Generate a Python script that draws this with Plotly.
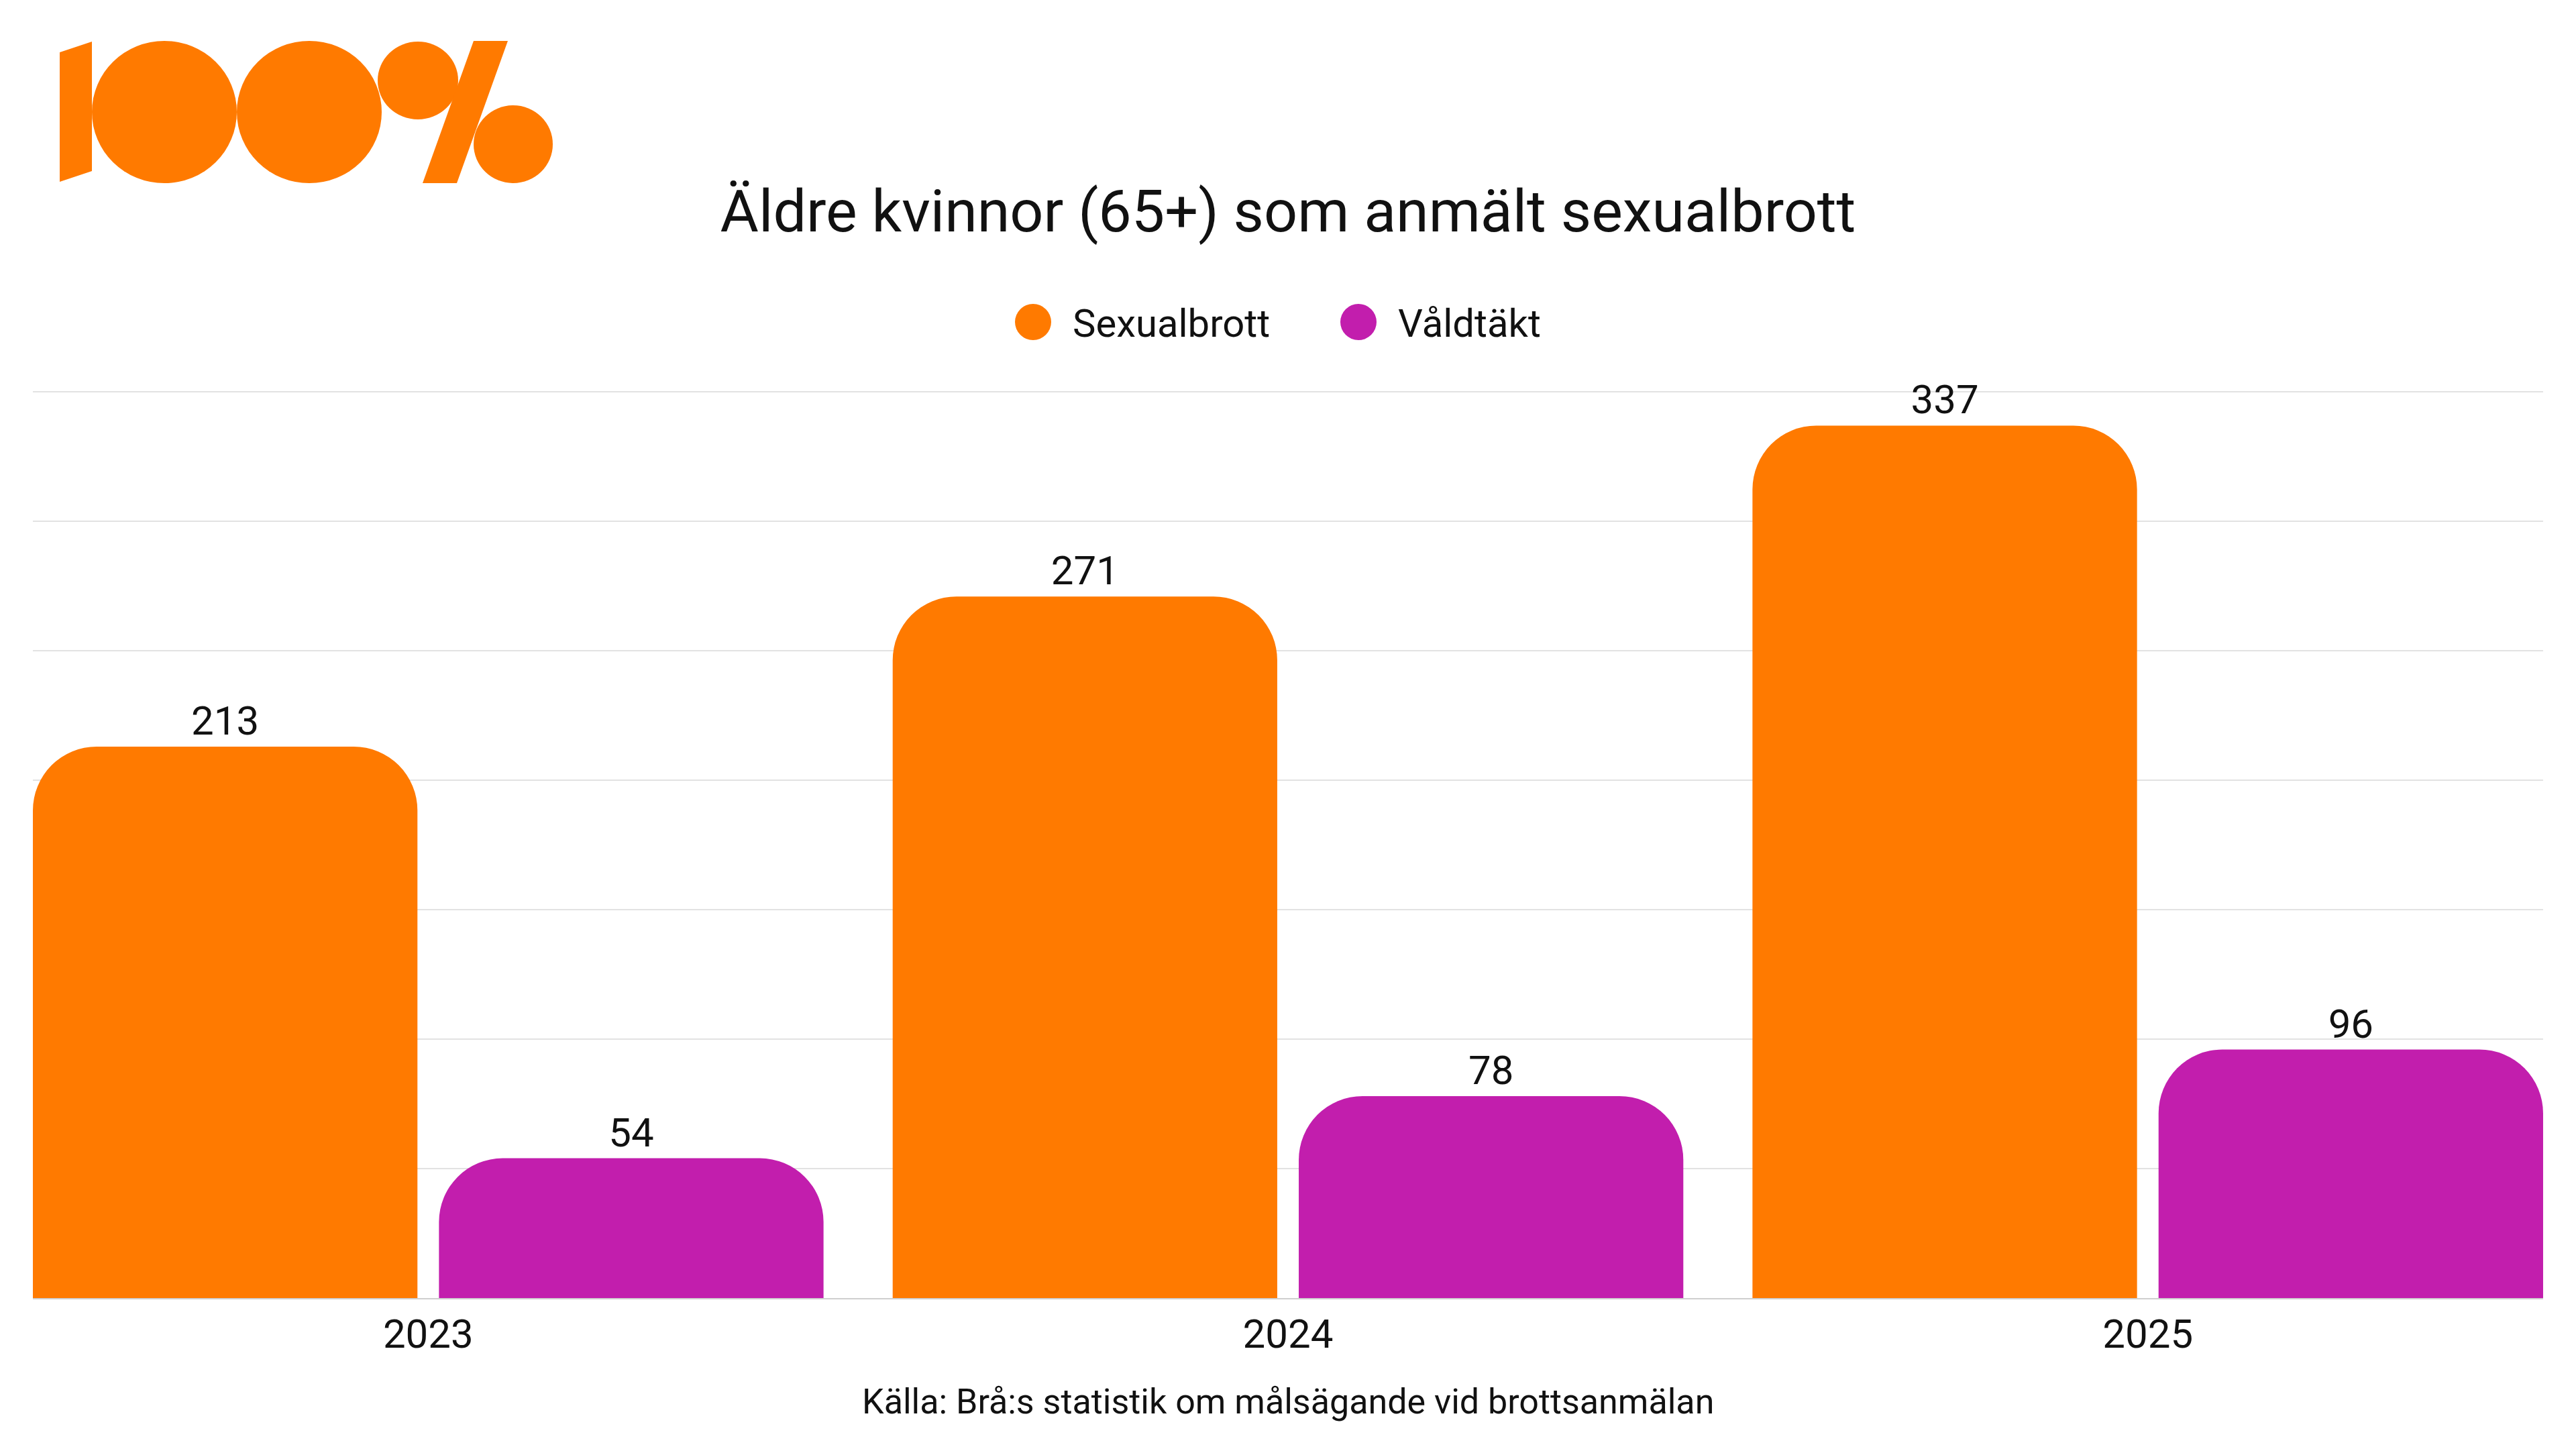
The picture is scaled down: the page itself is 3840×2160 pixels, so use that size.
import plotly.graph_objects as go

# ---------------- data ----------------
years = ["2023", "2024", "2025"]
sexualbrott = [213, 271, 337]
valdtakt = [54, 78, 96]
series_names = ["Sexualbrott", "Våldtäkt"]
title_text = "Äldre kvinnor (65+) som anmält sexualbrott"
source_text = "Källa: Brå:s statistik om målsägande vid brottsanmälan"

# ---------------- style ----------------
ORANGE = "#FF7A00"
PURPLE = "#C21EAD"
FONT = "Roboto, 'Liberation Sans', Arial, sans-serif"
W, H = 3840, 2160
YMAX = 350.6
ML, MR, MT, MB = 49, 49, 582, 225
PW = W - ML - MR
PH = H - MT - MB


def px(x):
    return (x - ML) / PW


def py(y):
    return (H - MB - y) / PH


fig = go.Figure()
for name, vals, col in [(series_names[0], sexualbrott, ORANGE),
                        (series_names[1], valdtakt, PURPLE)]:
    fig.add_bar(
        x=years, y=vals, name=name,
        marker=dict(color=col, cornerradius=95, line=dict(width=0)),
        text=vals, textposition="outside",
        textfont=dict(size=60, color="#111111", family=FONT),
        cliponaxis=False, showlegend=False, hoverinfo="x+y+name",
    )

shapes = []
annotations = []

# custom legend (circle markers)
legend_items = [(1540, 1597, ORANGE, series_names[0]),
                (2025, 2082, PURPLE, series_names[1])]
for cx, tx, col, name in legend_items:
    r = 27
    shapes.append(dict(type="circle", xref="paper", yref="paper",
                       x0=px(cx - r), x1=px(cx + r), y0=py(480 + r), y1=py(480 - r),
                       fillcolor=col, line=dict(width=0)))
    annotations.append(dict(text=name, xref="paper", yref="paper",
                            x=px(tx), y=py(482), xanchor="left", yanchor="middle",
                            showarrow=False, font=dict(size=58, color="#111111", family=FONT)))

# logo "100%"
def poly(pts):
    s = "M " + " L ".join(f"{px(a):.5f},{py(b):.5f}" for a, b in pts) + " Z"
    return dict(type="path", xref="paper", yref="paper", path=s,
                fillcolor=ORANGE, line=dict(width=0))


def ell(cx, cy, rx, ry):
    return dict(type="circle", xref="paper", yref="paper",
                x0=px(cx - rx), x1=px(cx + rx), y0=py(cy + ry), y1=py(cy - ry),
                fillcolor=ORANGE, line=dict(width=0))


shapes += [
    poly([(89, 78), (137, 62), (137, 255), (89, 271)]),
    ell(245, 167, 108, 106),
    ell(461, 167, 108, 106),
    ell(623, 120, 60, 58),
    ell(765, 215, 59, 58),
    poly([(706, 61), (757, 61), (681, 273), (630, 273)]),
]

annotations.append(dict(text=source_text, xref="paper", yref="paper",
                        x=0.5, y=py(2089), xanchor="center", yanchor="middle",
                        showarrow=False, font=dict(size=52, color="#111111", family=FONT)))

fig.update_layout(
    width=W, height=H,
    margin=dict(l=ML, r=MR, t=MT, b=MB, pad=0),
    paper_bgcolor="white", plot_bgcolor="white",
    barmode="group", bargap=0.0554, bargroupgap=0.053,
    title=dict(text=title_text, x=0.5, xanchor="center",
               y=1 - 314 / H, yanchor="middle", yref="container",
               font=dict(size=88, color="#111111", family=FONT)),
    font=dict(family=FONT, color="#111111"),
    xaxis=dict(type="category", range=[-0.4598, 2.4598], showgrid=False,
               showline=True, linecolor="#CFCFCF", linewidth=2,
               ticks="", tickfont=dict(size=60, color="#111111", family=FONT),
               fixedrange=True),
    yaxis=dict(range=[0, YMAX], tick0=0, dtick=50, showticklabels=False,
               showgrid=True, gridcolor="#E2E2E2", gridwidth=2,
               zeroline=False, showline=False, ticks="", fixedrange=True),
    shapes=shapes, annotations=annotations,
    showlegend=False,
)

fig.write_html("out.html", config={"displayModeBar": False})
